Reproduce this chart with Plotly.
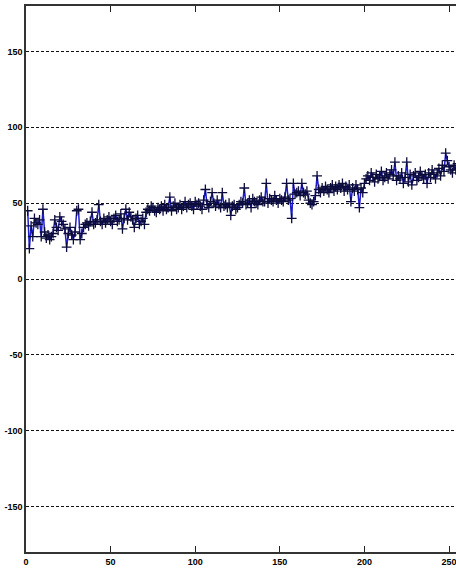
import plotly.graph_objects as go

# Sample index and measured values
sample_index = list(range(1, 257))
measurements = [
    45, 20, 35, 28, 40, 37, 36, 39, 28, 46, 31, 27, 29, 26, 28, 30,
    39, 34, 32, 41, 38, 36, 33, 21, 30, 34, 29, 26, 31, 45, 46, 26,
    30, 34, 36, 37, 35, 38, 44, 36, 37, 39, 49, 38, 36, 40, 37, 39,
    41, 38, 36, 40, 42, 38, 39, 43, 33, 40, 46, 39, 44, 41, 39, 34,
    40, 42, 36, 38, 40, 36, 44, 46, 45, 48, 47, 45, 44, 47, 46, 48,
    45, 49, 46, 47, 54, 45, 48, 50, 46, 47, 49, 46, 48, 51, 47, 49,
    50, 48, 46, 51, 49, 50, 48, 46, 52, 59, 49, 47, 51, 57, 50, 48,
    52, 49, 47, 57, 48, 49, 47, 50, 42, 48, 49, 46, 47, 49, 51, 50,
    60, 49, 50, 52, 47, 53, 51, 50, 49, 52, 54, 51,
    51, 63, 50, 53, 52, 51, 55, 52, 50, 53, 52, 51, 54, 63, 52, 53,
    40, 63, 56, 57, 58, 55, 63, 57, 56, 58, 52, 50, 49, 51, 55, 68,
    59, 57, 60, 58, 61, 59, 57, 60, 62, 58, 61, 59, 62, 60, 63, 58,
    61, 59, 62, 51, 60, 58, 62, 59, 47, 60, 57, 63, 66, 68, 65, 70,
    67, 64, 69, 66, 68, 71, 65, 67, 70, 66, 69, 72, 68, 77, 65, 68,
    66, 70, 63, 67, 77, 64, 69, 62, 68, 70, 65, 67, 71, 68, 66, 69,
    63, 70, 67, 72, 69, 66, 70, 73, 68, 75, 71, 83, 78, 74, 72, 70,
    75, 72, 76, 73,
]

x_ticks = [0, 50, 100, 150, 200, 250]
y_ticks = [-150, -100, -50, 0, 50, 100, 150]

tick_font = dict(family="Liberation Sans Narrow, Liberation Sans, Arial",
                 size=9, color="black", weight="bold")

fig = go.Figure()
fig.add_trace(go.Scatter(
    x=sample_index, y=measurements, mode="lines",
    line=dict(color="#1c1cc8", width=1.5), hoverinfo="skip",
))
fig.add_trace(go.Scatter(
    x=sample_index, y=measurements, mode="markers",
    marker=dict(symbol="cross-thin", size=7,
                line=dict(color="#0c0c3c", width=1.3)),
))

fig.update_layout(
    width=456, height=576,
    margin=dict(l=26, r=0, t=6, b=24),
    paper_bgcolor="white", plot_bgcolor="white",
    showlegend=False,
)
fig.update_xaxes(
    range=[0, 254.1], tickvals=x_ticks, ticktext=[str(v) for v in x_ticks],
    showgrid=False, zeroline=False,
    showline=True, linecolor="#333333", linewidth=1.5, mirror="ticks",
    ticks="inside", ticklen=6, tickcolor="#222222", tickwidth=1.2,
    tickfont=tick_font, ticklabeloverflow="allow",
)
fig.update_yaxes(
    range=[-180, 180], tickvals=y_ticks, ticktext=[str(v) for v in y_ticks],
    showgrid=True, gridcolor="#111111", gridwidth=1, griddash="3px,2px",
    zeroline=False,
    showline=True, linecolor="#333333", linewidth=1.5, mirror=False,
    ticks="", tickfont=tick_font,
)

fig.write_html("out.html")
